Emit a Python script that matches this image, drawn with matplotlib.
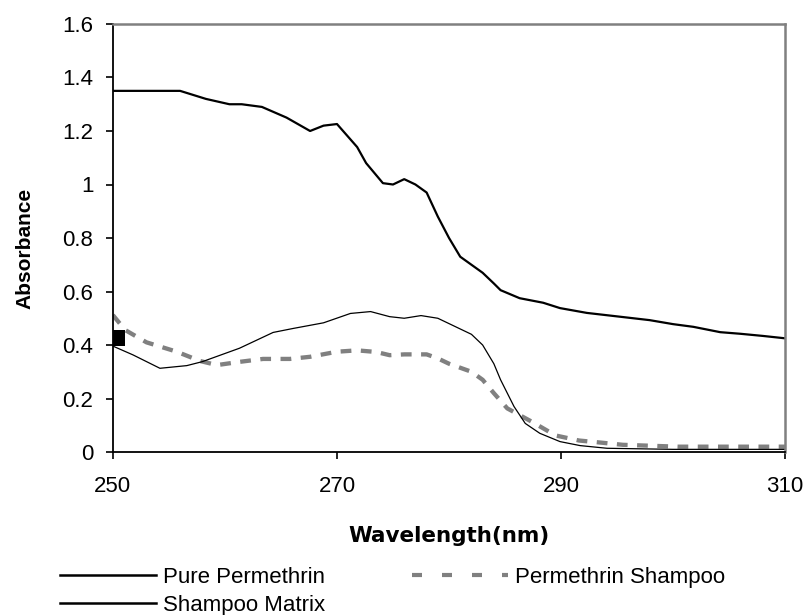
import numpy as np
import matplotlib
matplotlib.use("Agg")
from matplotlib import pyplot as plt
from matplotlib.ticker import FuncFormatter
from matplotlib.lines import Line2D

plt.rcParams['font.family'] = ['Liberation Sans', 'DejaVu Sans']

# Pure Permethrin (upper curve)
wl_pure = [250, 256, 258.3, 260.4, 261.5, 263.3, 265.5, 267.6, 268.8, 270, 271.8, 272.6,
           274.1, 275, 276, 277, 278, 279, 280, 281, 282, 283, 284, 284.6, 286.3, 288.4,
           289.9, 292.3, 295, 297.9, 300, 301.8, 304.2, 306, 308, 310]
abs_pure = [1.35, 1.35, 1.32, 1.30, 1.30, 1.29, 1.25, 1.20, 1.22, 1.226, 1.14, 1.08,
            1.005, 1.0, 1.02, 1.0, 0.97, 0.88, 0.80, 0.73, 0.70, 0.67, 0.63, 0.605, 0.575, 0.558,
            0.538, 0.52, 0.507, 0.493, 0.478, 0.468, 0.448, 0.442, 0.434, 0.425]

# Shampoo Matrix (thin black)
wl_matrix = [250, 251.8, 254.2, 256.6, 258, 261.3, 264.3, 266.1, 268.8, 271.2, 273, 274.7,
             276, 277.5, 279, 280, 282, 283, 284, 284.6, 285.8, 286.8, 288.1, 289.9, 291.7,
             294.1, 300, 310]
abs_matrix = [0.396, 0.363, 0.313, 0.323, 0.338, 0.388, 0.447, 0.462, 0.483, 0.518, 0.525, 0.506,
              0.50, 0.51, 0.50, 0.48, 0.44, 0.40, 0.33, 0.27, 0.17, 0.107, 0.07, 0.039, 0.024,
              0.014, 0.01, 0.01]
# little black block at the start of the matrix trace
wl_block = [250, 251.1]
block_lo = [0.396, 0.396]
block_hi = [0.456, 0.456]

# Permethrin Shampoo (grey dashed)
wl_shampoo = [250, 251.1, 253, 255.7, 257.8, 259.3, 261.3, 263.4, 265.8, 267.6, 270, 271.8,
              273.5, 274.7, 276, 278, 279, 280, 282, 283, 284, 285.2, 287.4, 289.5, 291.6,
              293.6, 295.5, 300.4, 310]
abs_shampoo = [0.512, 0.456, 0.41, 0.375, 0.34, 0.325, 0.337, 0.348, 0.348, 0.356, 0.375, 0.38,
               0.374, 0.362, 0.365, 0.365, 0.35, 0.33, 0.30, 0.27, 0.22, 0.163, 0.113, 0.062, 0.043,
               0.035, 0.027, 0.02, 0.02]

fig = plt.figure(figsize=(8.12, 6.15), dpi=100)
ax = fig.add_axes([0.139, 0.265, 0.828, 0.696])

ax.plot(wl_pure, abs_pure, color='black', lw=1.6)
ax.plot(wl_shampoo, abs_shampoo, color='#808080', lw=3.1, dashes=(2.5, 2.2))
ax.plot(wl_matrix, abs_matrix, color='black', lw=0.9)
ax.fill_between(wl_block, block_lo, block_hi, color='black', lw=0)

ax.set_xlim(250, 310)
ax.set_ylim(0, 1.6)
ax.set_xticks([250, 270, 290, 310])
ax.set_yticks(np.arange(0, 1.61, 0.2))
ax.yaxis.set_major_formatter(FuncFormatter(lambda v, p: '%g' % round(v, 1)))
ax.tick_params(direction='out', length=5, width=1.2, labelsize=16, pad=9)
ax.tick_params(axis='x', pad=12)

for s in ['left', 'bottom']:
    ax.spines[s].set_color('black')
    ax.spines[s].set_linewidth(1.3)
for s in ['top', 'right']:
    ax.spines[s].set_color('#808080')
    ax.spines[s].set_linewidth(1.8)

ax.set_xlabel('Wavelength(nm)', fontsize=15.5, fontweight='bold', labelpad=21,
              family=['DejaVu Sans'])
ax.set_ylabel('Absorbance', fontsize=15, fontweight='bold')
ax.yaxis.set_label_coords(-0.117, 0.475)

# legend below the plot
h_pure = Line2D([], [], color='black', lw=1.8)
h_matrix = Line2D([], [], color='black', lw=1.8)
h_shampoo = Line2D([], [], color='#808080', lw=3, dashes=(2.4, 4.8))

leg_kw = dict(frameon=False, fontsize=16, handlelength=4.3, handletextpad=0.35,
              labelspacing=0.3, borderaxespad=0, borderpad=0)
leg1 = fig.legend([h_pure, h_matrix], ['Pure Permethrin', 'Shampoo Matrix'],
                  loc='upper left', bbox_to_anchor=(60 / 812, 1 - 567 / 615), **leg_kw)
leg2 = fig.legend([h_shampoo], ['Permethrin Shampoo'],
                  loc='upper left', bbox_to_anchor=(412 / 812, 1 - 567 / 615), **leg_kw)

fig.savefig('out.png', dpi=100)
